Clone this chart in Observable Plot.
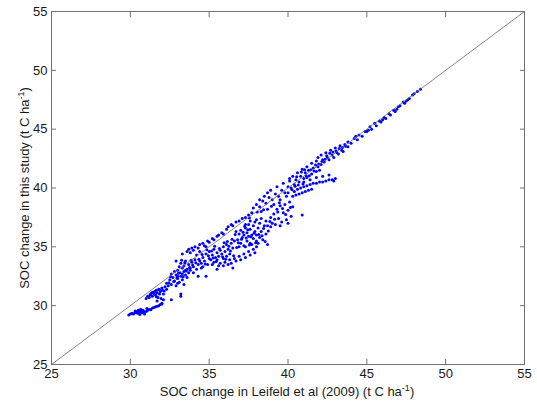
<!DOCTYPE html>
<html>
<head>
<meta charset="utf-8">
<script src="https://cdn.jsdelivr.net/npm/d3@7"></script>
<script src="https://cdn.jsdelivr.net/npm/@observablehq/plot@0.6"></script>
<style>
  html, body { margin: 0; padding: 0; background: #fff; }
  #chart { width: 537px; height: 403px; }
</style>
</head>
<body>
<div id="chart"></div>
<script>
// Axis ticks
const xTicks = [25, 30, 35, 40, 45, 50, 55];
const yTicks = [25, 30, 35, 40, 45, 50, 55];
const oneToOne = [25, 55];

// Scatter clusters: [SOC change Leifeld et al (2009), SOC change this study]
const lowerTail = [[29.9,29.2],[30.0,29.3],[30.1,29.35],[30.2,29.3],[30.3,29.4],[30.4,29.5],[30.45,29.35],[30.5,29.6],[30.55,29.45],[30.6,29.5],[30.65,29.7],[30.7,29.55],[30.75,29.4],[30.8,29.6],[30.85,29.5],[30.9,29.3],[31.0,29.5],[31.1,29.6],[31.2,29.7],[31.3,29.65],[31.4,29.8],[31.5,29.85],[31.6,29.9],[31.7,29.95],[31.8,30.0],[31.9,30.1],[32.0,30.15],[30.3,29.55],[30.6,29.25],[31.05,29.75]];
const clusterB = [[31.0,30.6],[31.1,30.8],[31.2,30.7],[31.3,30.9],[31.35,31.1],[31.4,30.8],[31.5,31.0],[31.55,31.2],[31.6,30.9],[31.65,31.3],[31.7,31.1],[31.75,30.7],[31.8,31.4],[31.85,31.0],[31.9,31.2],[31.95,30.6],[32.0,31.5],[32.05,31.3],[32.1,31.0],[32.2,31.6],[32.3,31.4],[32.4,31.7],[31.7,30.4],[32.0,30.2],[32.1,30.5],[33.2,30.8],[33.2,31.0],[32.6,30.5]];
const clusterC = [[32.3,31.9],[32.5,32.2],[32.6,31.8],[32.7,32.4],[32.8,32.1],[32.9,32.6],[33.0,32.3],[33.1,32.0],[33.15,32.8],[33.2,32.5],[33.3,32.2],[33.4,32.9],[33.5,32.6],[33.6,33.1],[33.7,32.8],[33.8,33.2],[32.9,31.7],[33.0,31.9],[33.4,31.8],[32.6,32.7],[32.8,32.9],[33.0,33.0],[33.3,33.2]];
const clusterD = [[33.0,32.5],[33.1,33.3],[33.2,33.6],[33.3,32.7],[33.4,33.4],[33.5,33.8],[33.6,32.4],[33.7,33.5],[33.8,33.0],[33.9,33.7],[34.0,33.3],[34.1,33.9],[34.2,33.1],[34.3,33.5],[34.4,33.8],[34.5,33.2],[33.5,33.0],[34.0,32.8],[34.3,32.5],[34.8,32.5]];
const upperBand = [[33.6,34.6],[33.7,34.8],[33.8,34.5],[33.9,34.9],[34.0,34.7],[34.1,35.0],[34.3,34.9],[34.4,35.2],[34.6,35.3],[34.7,35.1],[34.9,35.5],[35.0,35.4],[35.2,35.7],[35.3,35.6],[35.5,35.9],[35.6,36.0],[35.8,36.2],[35.9,36.1],[36.1,36.5],[36.2,36.7],[36.4,36.9],[36.5,36.8],[36.7,37.1],[36.9,37.2],[37.1,37.4],[37.3,37.5],[37.5,37.7],[37.7,37.9],[33.3,34.4],[32.9,33.8]];
const mainCloud = [[34.5,33.6],[34.6,34.1],[34.7,33.8],[34.8,34.4],[34.9,33.5],[35.0,34.0],[35.0,34.6],[35.1,33.9],[35.2,34.3],[35.3,33.7],[35.3,34.8],[35.4,34.1],[35.5,34.5],[35.5,33.9],[35.6,34.2],[35.7,34.7],[35.7,33.6],[35.8,34.4],[35.9,34.0],[35.9,35.0],[36.0,34.6],[36.1,34.2],[36.1,35.2],[36.2,34.8],[36.3,34.4],[36.4,35.3],[36.5,34.9],[36.6,35.5],[34.6,33.3],[35.2,33.5],[35.6,33.4],[34.2,34.3],[34.4,34.6],[34.8,35.0]];
const lowerBand = [[35.9,33.4],[36.0,33.7],[36.2,33.5],[36.3,33.9],[36.4,33.6],[36.6,34.0],[36.7,33.8],[36.9,34.2],[37.0,33.9],[37.2,34.4],[37.3,34.1],[37.5,34.6],[37.6,34.3],[37.8,34.8],[37.9,34.5],[38.0,35.0],[36.5,33.2],[35.5,33.1]];
const denseCloud = [[36.8,35.6],[36.9,36.1],[37.0,35.3],[37.0,36.4],[37.1,35.8],[37.2,36.0],[37.2,35.1],[37.3,36.6],[37.4,35.5],[37.4,36.2],[37.5,35.9],[37.6,36.5],[37.6,35.3],[37.7,36.0],[37.8,35.7],[37.8,36.8],[37.9,36.3],[38.0,35.5],[38.0,36.0],[38.1,36.6],[38.2,35.8],[38.2,37.0],[38.3,36.3],[38.4,35.6],[38.5,36.8],[38.6,36.1],[38.7,35.2],[37.3,35.0],[36.9,35.0],[37.7,35.2],[38.1,35.3],[37.5,36.9],[37.9,37.1],[36.7,36.3],[37.3,36.9],[37.6,37.2],[38.0,37.3],[38.3,37.4],[38.6,37.2],[38.9,37.5],[38.7,36.8]];
const rightCloud = [[38.9,36.7],[39.0,37.0],[39.1,37.8],[39.2,36.9],[39.3,38.2],[39.4,37.4],[39.5,38.5],[39.6,37.1],[39.7,37.9],[39.8,38.6],[39.9,37.3],[40.0,38.1],[40.1,38.8],[40.2,37.6],[40.3,38.4],[39.5,36.8],[40.0,37.0],[40.9,37.7]];
const topCloud = [[37.8,38.3],[38.0,38.6],[38.2,38.4],[38.4,38.9],[38.6,38.7],[38.8,39.2],[39.0,39.0],[39.2,39.5],[39.4,39.3],[39.6,39.8],[39.8,39.6],[40.0,40.1],[38.3,38.0],[38.7,38.2],[39.1,38.6],[39.5,39.0],[39.9,39.3],[38.2,39.0],[38.5,39.3],[38.9,39.8],[39.3,40.1],[39.7,40.4],[40.1,40.6],[38.7,39.6]];
const rightBranch = [[40.3,39.3],[40.5,39.4],[40.7,39.5],[40.9,39.6],[41.1,39.7],[41.3,39.8],[41.5,39.9],[40.4,39.7],[40.6,39.9],[40.8,40.0],[41.0,40.1],[41.2,40.2],[41.4,40.3],[41.6,40.4],[41.8,40.4],[42.0,40.5],[42.2,40.5],[42.4,40.6],[42.6,40.7],[42.8,40.7],[43.0,40.8],[42.9,40.6],[41.0,40.5],[41.4,40.7],[41.8,40.9],[42.2,41.0],[42.6,41.1]];
const midBand = [[40.2,40.0],[40.4,40.3],[40.5,40.7],[40.7,40.5],[40.8,41.0],[41.0,40.8],[41.1,41.3],[41.2,40.9],[41.3,41.5],[41.5,41.2],[41.6,41.7],[41.8,41.4],[41.9,41.8],[42.0,41.5],[42.1,42.0],[40.3,41.0],[40.6,41.3],[40.9,41.6],[41.2,41.8],[41.5,42.1],[41.8,42.3],[40.1,40.8],[40.0,39.6]];
const upperCluster = [[41.9,42.6],[42.1,42.8],[42.2,42.4],[42.4,43.0],[42.5,42.6],[42.7,43.2],[42.8,42.8],[43.0,43.4],[43.1,43.0],[43.3,43.6],[43.4,43.2],[43.6,43.7],[42.3,42.2],[42.6,42.4],[42.9,42.6],[43.2,42.9],[43.5,43.1],[43.8,43.5]];
const upperTail = [[43.8,43.9],[44.0,43.8],[44.2,44.2],[44.4,44.1],[44.5,44.5],[44.7,44.4],[44.9,44.8],[45.0,44.8],[45.2,45.2],[45.3,45.0],[45.5,45.5],[45.6,45.3],[45.8,45.7],[45.9,45.6],[46.1,46.0],[46.2,45.9],[46.4,46.3],[46.5,46.2],[46.7,46.6],[46.8,46.5],[47.0,46.9],[47.1,47.0],[47.3,47.3],[47.4,47.2],[47.6,47.5],[47.7,47.6],[47.9,47.9],[48.0,48.0],[48.2,48.2],[48.4,48.4],[44.3,44.4],[45.1,44.9],[46.0,45.8],[46.9,46.7],[47.5,47.4]];
const fillLow = [[31.25,30.95],[31.45,31.15],[31.65,30.75],[31.85,31.35],[32.15,31.25],[32.45,31.95],[32.55,32.45],[32.75,32.05],[32.95,32.35],[33.05,32.75],[33.35,32.45],[33.55,32.95],[33.75,33.25],[33.95,33.45],[34.15,33.65],[33.45,33.65],[33.25,33.85],[33.85,33.85]];
const fillMain = [[34.35,33.95],[34.55,34.35],[34.75,33.55],[34.95,34.25],[35.15,34.65],[35.25,34.05],[35.45,33.75],[35.65,34.85],[35.85,34.15],[36.05,33.95],[36.25,35.05],[36.35,34.65],[36.55,34.25],[36.75,34.95],[36.85,35.35],[37.05,35.65],[37.15,36.25],[37.35,35.75],[37.45,36.45],[37.55,35.15],[37.65,35.85],[37.85,36.15],[37.95,35.35],[38.15,36.05],[38.35,35.95],[38.45,36.55],[38.55,35.45],[36.45,35.65],[36.15,35.45],[35.95,35.35],[35.35,35.05],[34.85,34.75],[36.65,36.05],[37.25,36.75],[38.75,36.35],[38.85,37.15],[39.15,37.35],[39.35,37.95],[39.65,38.25],[39.85,37.75],[40.15,38.35],[39.45,38.75],[38.95,38.45],[38.45,38.15],[38.05,37.95],[37.55,37.45]];
const fillHigh = [[40.25,39.85],[40.45,40.15],[40.65,40.25],[40.95,40.35],[41.15,41.05],[41.35,41.05],[41.45,41.55],[41.65,41.45],[41.75,41.95],[41.95,42.05],[42.15,42.25],[42.35,42.45],[42.45,42.75],[42.65,42.95],[42.85,43.05],[43.05,43.15],[43.25,43.35],[43.45,43.45],[43.65,43.55],[40.55,40.95],[40.85,41.35],[41.05,41.55]];

const points = [lowerTail, clusterB, clusterC, clusterD, upperBand, mainCloud, lowerBand,
  denseCloud, rightCloud, topCloud, rightBranch, midBand, upperCluster, upperTail,
  fillLow, fillMain, fillHigh]
  .flat().map(([x, y]) => ({x, y}));

const axisColor = "#707070";
const fontFam = "'Liberation Sans', Arial, sans-serif";

const chart = Plot.plot({
  width: 537,
  height: 403,
  marginLeft: 51,
  marginRight: 13,
  marginTop: 11,
  marginBottom: 39,
  style: { fontFamily: fontFam, fontSize: "13px", background: "#fff", color: "#1a1a1a" },
  x: { domain: [25, 55] },
  y: { domain: [25, 55] },
  marks: [
    Plot.dot(points, { x: "x", y: "y", r: 1.5, fill: "#0000ff", stroke: null }),
    Plot.line(oneToOne.map(v => ({x: v, y: v})), { x: "x", y: "y", stroke: "#666", strokeWidth: 0.8 }),
    Plot.frame({ stroke: axisColor, strokeWidth: 1 }),
    Plot.axisX({ anchor: "bottom", ticks: xTicks, tickSize: -5, tickPadding: 9, stroke: axisColor, label: null, fill: "#1a1a1a" }),
    Plot.axisX({ anchor: "top", ticks: xTicks, tickSize: -5, tickFormat: () => "", stroke: axisColor, label: null }),
    Plot.axisY({ anchor: "left", ticks: yTicks, tickSize: -5, tickPadding: 9, stroke: axisColor, label: null, fill: "#1a1a1a" }),
    Plot.axisY({ anchor: "right", ticks: yTicks, tickSize: -5, tickFormat: () => "", stroke: axisColor, label: null })
  ]
});

document.getElementById("chart").appendChild(chart);

// Axis titles with superscript
const svg = d3.select(chart);
const xt = svg.append("text")
  .attr("x", 287).attr("y", 396)
  .attr("text-anchor", "middle")
  .attr("font-family", fontFam).attr("font-size", 13).attr("fill", "#1a1a1a");
xt.append("tspan").text("SOC change in Leifeld et al (2009) (t C ha");
xt.append("tspan").attr("dy", -5).attr("font-size", 9).text("-1");
xt.append("tspan").attr("dy", 5).text(")");

const yt = svg.append("text")
  .attr("transform", "translate(29,188) rotate(-90)")
  .attr("text-anchor", "middle")
  .attr("font-family", fontFam).attr("font-size", 13).attr("fill", "#1a1a1a");
yt.append("tspan").text("SOC change in this study (t C ha");
yt.append("tspan").attr("dy", -5).attr("font-size", 9).text("-1");
yt.append("tspan").attr("dy", 5).text(")");
</script>
</body>
</html>
